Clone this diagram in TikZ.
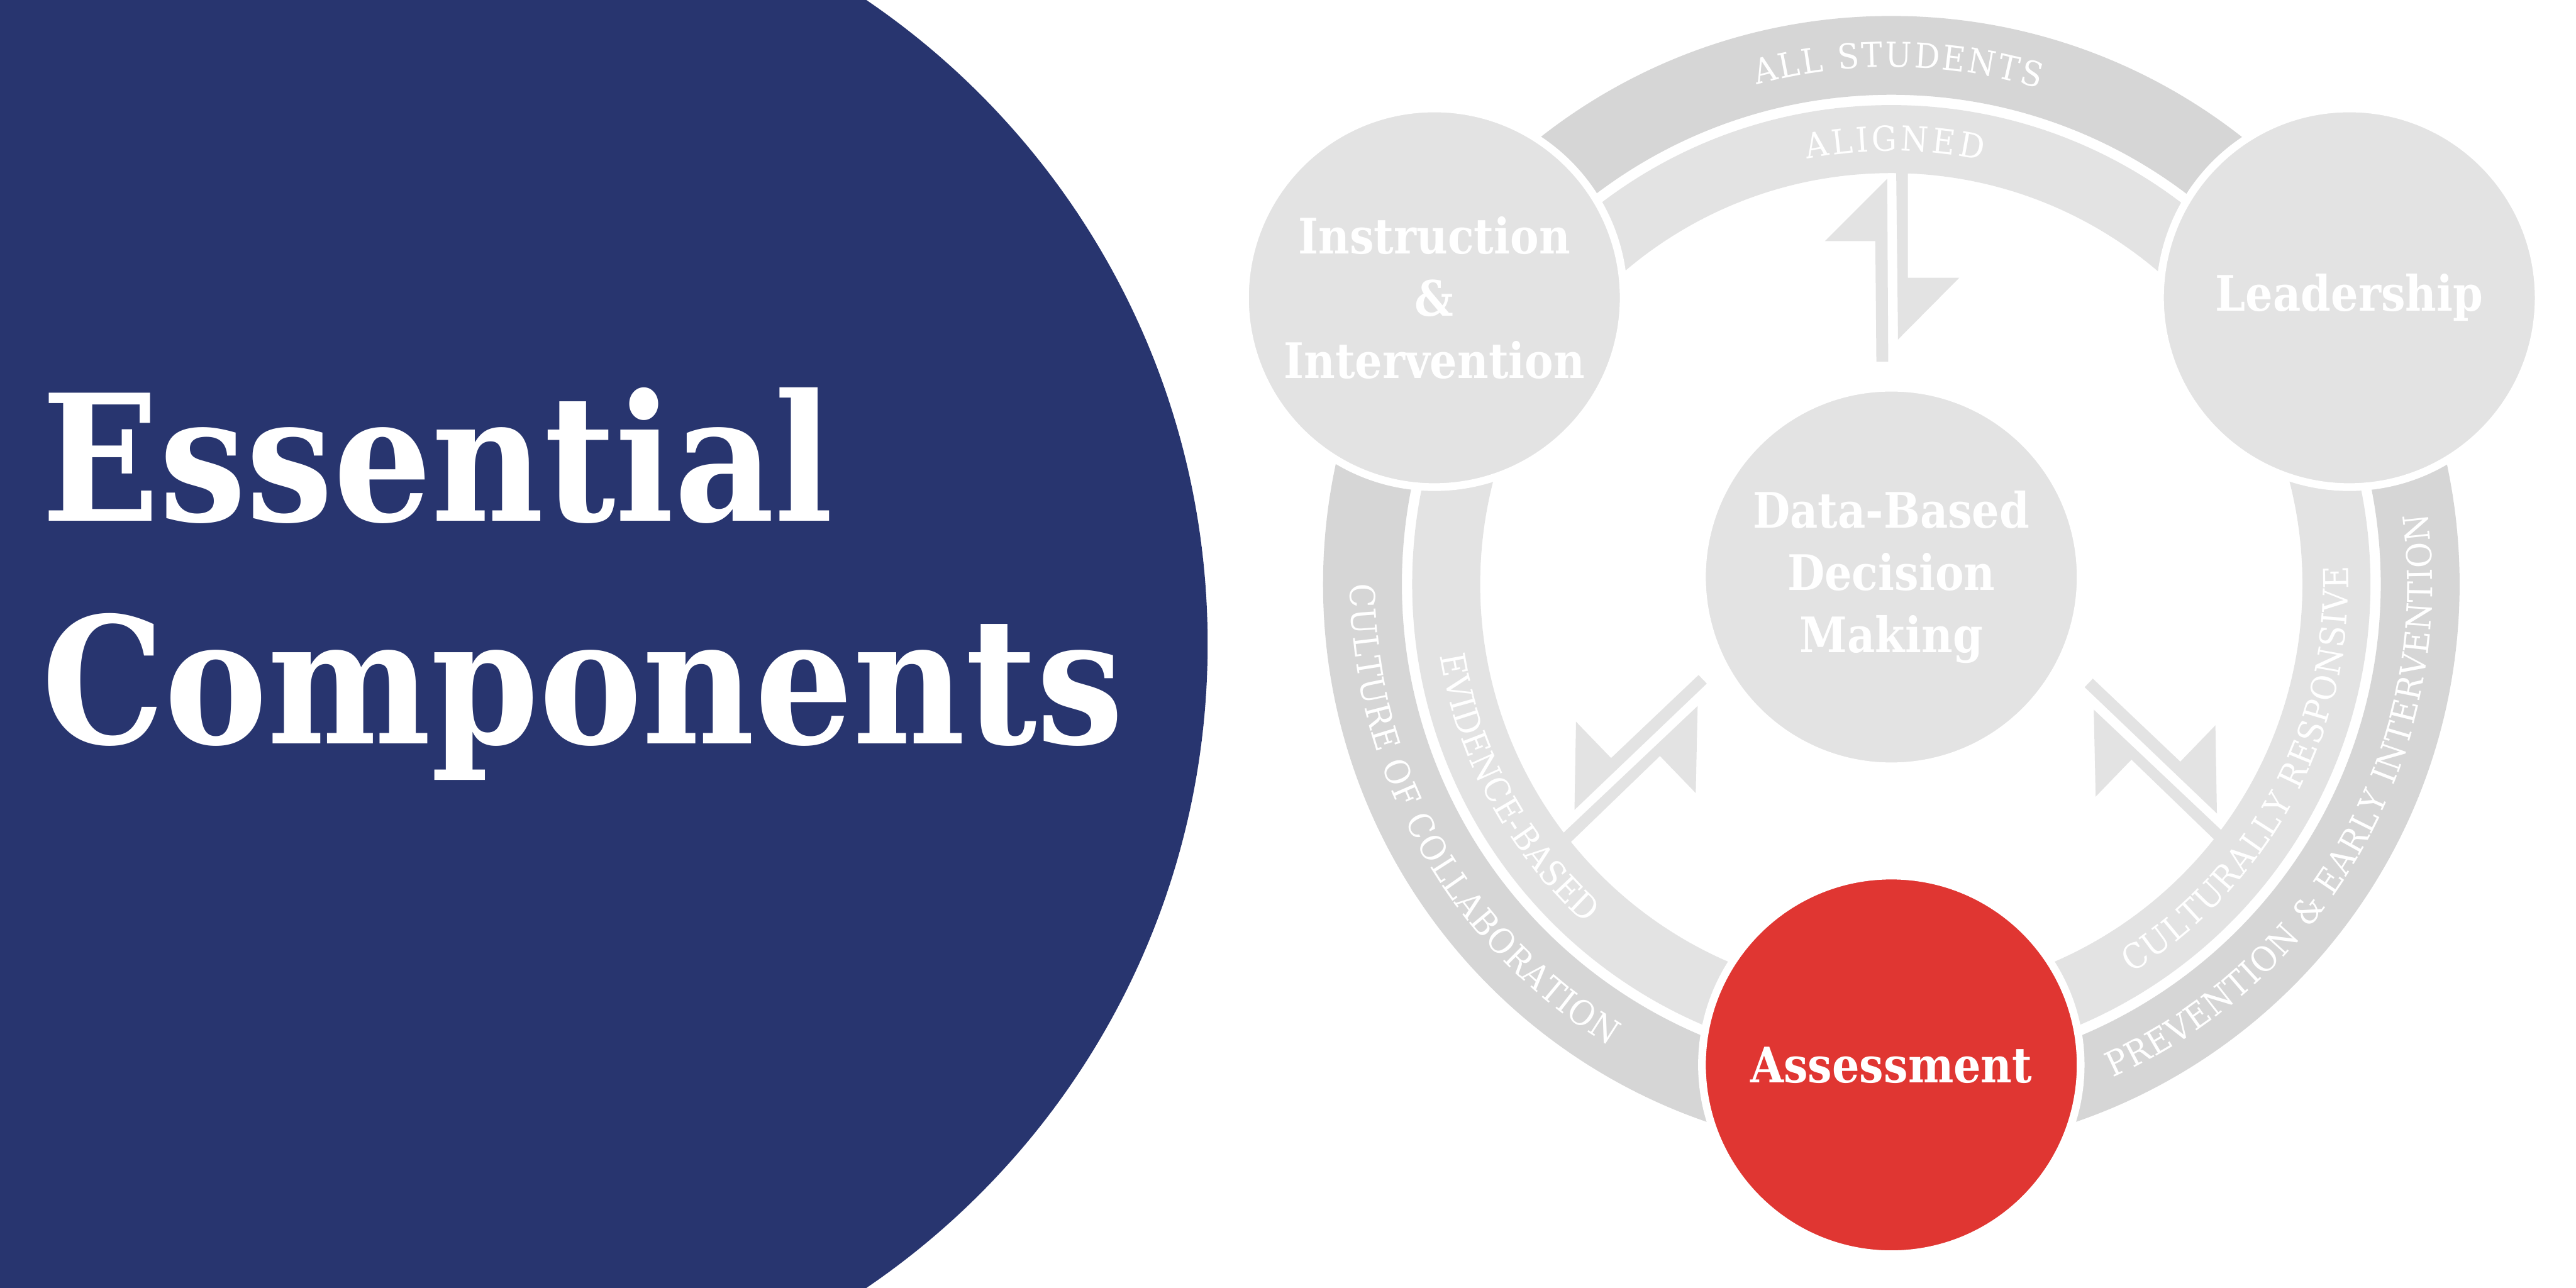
\documentclass[tikz,border=0pt]{standalone}
\usepackage{fontspec}
\setmainfont{DejaVu Serif}[FakeStretch=0.88]
\newfontfamily\bandfont{DejaVu Serif}[FakeStretch=0.92]
\usetikzlibrary{calc, decorations.text}

\definecolor{navy}{HTML}{28356F}
\definecolor{alertred}{HTML}{E03632}
\definecolor{bandout}{HTML}{D6D6D6}
\definecolor{bandin}{HTML}{E3E3E3}

% Two-way arrow, drawn pointing up in its own frame
\newcommand{\boltpair}{%
    % Half pointing outwards
    \fill[bandin] (-0.09,1.72) -- (-1.30,0.51) -- (-0.32,0.51) -- (-0.30,-1.83) -- (-0.07,-1.83) -- cycle;
    % Half pointing inwards, its shaft runs into the band
    \fill[bandin] (0.08,2.30) -- (0.31,2.30) -- (0.31,-0.20) -- (1.31,-0.20) -- (0.12,-1.40) -- cycle;
}

\begin{document}
\begin{tikzpicture}[
    comp/.style={circle, fill=bandin, draw=white, line width=1.5mm, minimum size=7.35cm, inner sep=0pt,
        text=white, align=center, font=\fontsize{27}{34.5}\selectfont\bfseries}, % Style for the component discs
    heading/.style={anchor=base west, inner sep=0pt, text=white, font=\fontsize{97}{120}\selectfont\bfseries},
    bandtext/.style={decorate, decoration={text along path, text align={fit to path},
        text={|\bandfont\fontsize{19}{22}\selectfont\color{white}|#1}}} % White caps set along a band
]

    % Page frame
    \useasboundingbox (0,0) rectangle (50,25);
    \clip (0,0) rectangle (50,25);
    \fill[white] (0,0) rectangle (50,25);

    % Big blue disc on the left with the title
    \fill[navy] (8.34,12.5) circle (15.10);
    \node[heading] (title) at (0.80,14.89) {Essential};
    \node[heading] (subtitle) at (0.80,10.57) {Components};

    % Centre of the two bands
    \coordinate (ring) at (36.71,13.66);
    \def\outerR{11.03}
    \def\innerR{9.30}

    % Draw the outer and inner band
    \fill[bandout, even odd rule] (ring) circle (\outerR) (ring) circle (9.50);
    \fill[bandin, even odd rule] (ring) circle (\innerR) (ring) circle (7.98);

    % Double arrows between the middle disc and the bands
    \begin{scope}[shift={(36.72,19.81)}]
        \boltpair
    \end{scope}
    \begin{scope}[shift={(31.86,10.41)}, rotate=134, xscale=-1]
        \boltpair
    \end{scope}
    \begin{scope}[shift={(41.73,10.34)}, rotate=-134]
        \boltpair
    \end{scope}

    % The four components
    \node[comp] (instr) at (27.84,19.22) {Instruction\\\&\\Intervention};
    \node[comp] (lead) at (45.60,19.22) {Leadership};
    \node[comp] (data) at (36.71,13.80) {Data-Based\\Decision\\Making};
    \node[comp, fill=alertred] (assess) at (36.71,4.33) {Assessment};

    % Labels on the bands
    \path[bandtext={ALL STUDENTS}] ($(ring)+(105.1:10.04)$) arc[start angle=105.1, end angle=73.4, radius=10.04];
    \path[bandtext={ALIGNED}] ($(ring)+(101.2:8.41)$) arc[start angle=101.2, end angle=77.9, radius=8.41];
    \path[bandtext={CULTURE OF COLLABORATION}] ($(ring)+(180:10.50)$) arc[start angle=180, end angle=238.6, radius=10.50];
    \path[bandtext={EVIDENCE-BASED}] ($(ring)+(189:8.87)$) arc[start angle=189, end angle=228, radius=8.87];
    \path[bandtext={PREVENTION {\&} EARLY INTERVENTION}] ($(ring)+(294.2:10.50)$) arc[start angle=294.2, end angle=367.5, radius=10.50];
    \path[bandtext={CULTURALLY RESPONSIVE}] ($(ring)+(301.7:8.87)$) arc[start angle=301.7, end angle=362.3, radius=8.87];

\end{tikzpicture}
\end{document}
